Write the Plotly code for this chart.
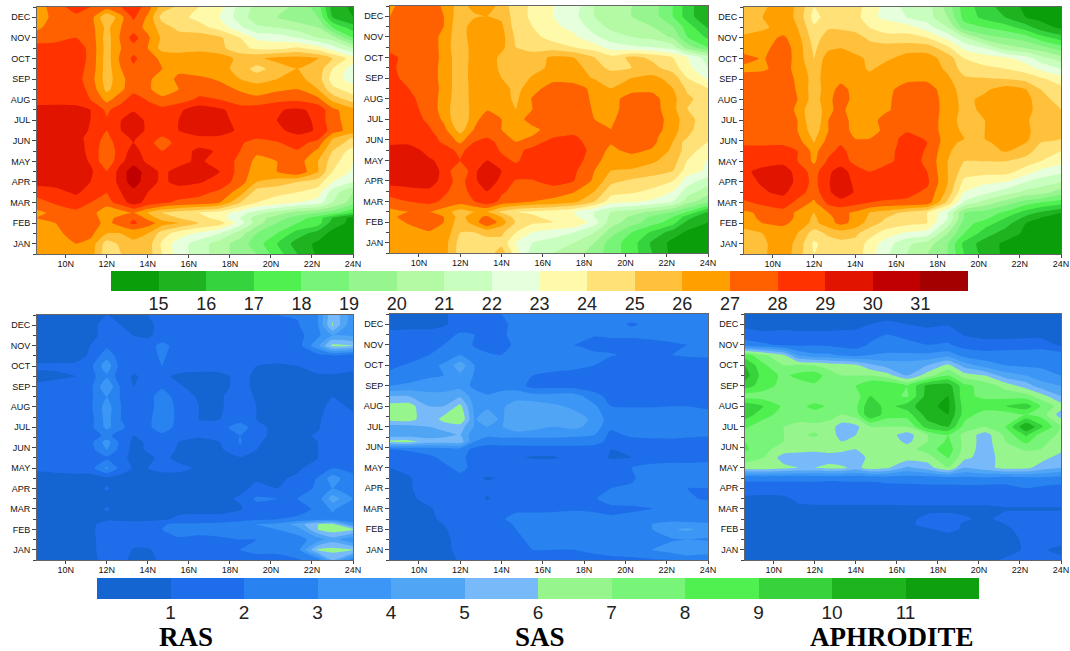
import plotly.graph_objects as go

LON = [8.6, 9.5, 10.5, 11.2, 12, 12.7, 13.3, 14, 14.7, 15.5, 16.5, 17.5, 18.5, 19.3, 20.3, 21.3, 22.3, 23, 24]
TEMP_MONTHS = [0.5, 1, 1.5, 2, 2.25, 2.5, 3, 3.5, 4, 4.5, 5, 5.5, 5.9, 6.1, 6.5, 7, 7.5, 8, 8.5, 9, 9.5, 10, 10.5, 11, 11.5, 12, 12.5]
RAS_RAIN_MONTHS = [0.5, 1, 1.5, 2, 2.25, 2.5, 3, 3.5, 4, 4.5, 5, 5.5, 5.9, 6.28, 6.6, 7, 7.37, 8, 8.5, 9, 9.5, 10, 10.5, 11, 11.5, 12, 12.5]
APHRO_RAIN_MONTHS = [0.5, 1, 1.5, 2, 2.25, 2.5, 3, 3.5, 4, 4.5, 5, 5.5, 5.9, 6.28, 6.6, 7, 7.6, 8, 8.5, 9, 9.5, 10, 10.5, 11, 11.5, 12, 12.5]
MONTH_LABELS = ["JAN", "FEB", "MAR", "APR", "MAY", "JUN", "JUL", "AUG", "SEP", "OCT", "NOV", "DEC"]
LON_TICKS = [10, 12, 14, 16, 18, 20, 22, 24]
TEMP_LEVELS = list(range(15, 32))
RAIN_LEVELS = list(range(1, 12))
TEMP_COLORS = ["#0a9e0a", "#1fb31f", "#35d33d", "#50f050", "#78f578", "#96f58e", "#b4faa4", "#c8ffbe", "#e6ffdc",
               "#fffaaa", "#ffe178", "#ffc03c", "#ffa000", "#ff6000", "#ff3200", "#e11400", "#c00000", "#a50000"]
RAIN_COLORS = ["#1464d2", "#1e6eeb", "#2882f0", "#3c96f5", "#50a5f5", "#78b9fa", "#96f58c", "#78f578", "#50f050",
               "#37d23c", "#1eb41e", "#0fa00f"]
PANEL_TITLES = ["RAS", "SAS", "APHRODITE"]

RAS_TEMP = [
[26.5,26.5,26.7,26.6,24.3,25,25.5,25.5,24,22.5,21.5,20.5,19.5,19,17.5,16,14.8,14.5,14.5],
[26.5,26.5,27,26.7,24.5,25.2,25.8,25.5,23.8,22.5,21.5,20.5,19.5,18.5,17,15.5,14.8,14.5,14.5],
[26.5,26.7,27.5,27.3,26,26,26.3,26,24.5,23.5,22.8,22,20.5,19,18,16.5,15.5,14.7,14.5],
[26.8,27,27.7,27.5,26.7,27.5,28.2,27.5,26.5,26,25,24.5,22.5,20.5,19,18,17.5,15.5,14.7],
[27,27.5,27.8,27.5,26.5,27.5,27.9,26.7,25.5,25,24.5,23.5,22,20.5,19.5,18.5,17.5,16,14.6],
[26.8,27.2,27.8,27.6,26,26.5,27,26,25,24.5,24,23.5,22.5,21.5,20.5,19.5,19,18.5,17],
[27.5,28.2,28.4,28,27.6,28.5,29.5,28.6,28.2,27.8,27.6,27,25,24,23.5,23,22.5,21,19.5],
[28.5,28.6,29.2,28.5,28,29,29.7,29,28.7,28.5,28.3,27.8,26.5,24.5,24.3,24,23.5,21.5,20],
[29.3,29.5,29.8,29,28,29.5,30.5,29.4,28.8,29.3,29.1,28.6,27.5,26,25.5,25,24.5,23,22],
[29.5,29.5,29.6,29.2,28,29.5,30.6,29.5,28.8,29.3,29.4,29,27.6,26.5,27,27.8,26,24,22.8],
[29.4,29.5,29.5,28.9,27.2,28.8,29.6,28.8,28.5,28.7,29.2,28.5,27.8,26.7,27,27.5,26,24.5,23],
[29.4,29.5,29.5,28.7,27.3,28.5,29.4,28.5,28,28.6,29.2,28.9,28,27.2,27.5,27.9,26.8,25,23.5],
[29.3,29.4,29.4,28.7,27.5,28.6,29,28.3,27.6,28.3,28.7,28.6,28.1,27.7,27.9,28.5,27.5,25.7,24.5],
[29.3,29.4,29.4,28.6,27.7,28.7,29.1,28.5,27.8,28.4,28.7,28.6,28.2,28,28.2,28.7,28.2,26,24.8],
[29.5,29.5,29.5,28.9,28,29,29.6,28.8,28.5,29,29.6,29.7,28.7,28.6,28.8,29.3,28.9,27.5,26.5],
[29.5,29.6,29.5,29,28.1,29,29.5,28.8,28.6,29,29.6,29.5,28.5,28.5,29,29.4,28.8,27.2,26.7],
[29.5,29.5,29.4,29,27.8,28.6,28.9,28.5,28.3,28.8,29.6,29.2,28.5,28.6,28.9,29.2,28.7,27.3,26.3],
[28.4,28.5,28.5,28,26.7,27.6,28.6,27.9,27.3,27.5,28.2,28,27.4,27.3,27.7,27.8,27.3,25.7,24.5],
[28.4,28.4,28.4,27.8,25.7,26.8,27.6,27.2,26.4,27,27.6,27.3,26.9,26.5,26.8,27,26,24.3,23.5],
[28.4,28.4,28.4,27.5,25.5,26.7,27.6,27.2,26.5,27.2,27.2,26.9,26,25.6,26,26.3,25.5,23.5,22.5],
[28.5,28.5,28.4,27.7,25.5,27,27.8,27.3,27,26.8,26.5,26.4,25.6,24.6,25.5,26,25.6,24,22.5],
[28.4,28.5,28.5,27.8,25.5,27.3,28.2,27.4,26.8,26.6,27,26.6,25.7,25.8,26.3,26.4,26,25,23.5],
[28.4,28.5,28.4,27.8,25.6,27,27.6,27,25.6,25.5,25.5,25.3,24.3,23.8,23.7,24.2,23.5,22.5,21],
[27.5,27.6,28,27.7,25.5,27.2,28.4,27.2,25.8,25.5,25.6,25.2,24,22.8,22.6,22,21,20.5,18],
[26.8,27.5,27.8,27.5,25.7,27,27.5,26.7,25.5,24.7,24.4,23.6,22.2,21.2,21,20.5,20,18,16.5],
[26.5,27.3,27.7,27.5,25,26.7,28.2,26.8,24.6,24.3,23.7,23,21.5,20.5,20,19.5,19,16,15],
[26.5,27.5,28.5,28,27.5,28,28.6,27.5,25.5,24.8,24,23.4,21.6,20.7,20.3,19.8,18.5,15.5,14.8],
]
SAS_TEMP = [
[26.5,26.5,26.6,26.5,24.5,24.5,24.5,25.5,23.5,21.5,21,20.5,19.5,18.5,17.5,16,14.7,14.4,14.4],
[26.5,26.5,26.5,26.5,24.6,24.5,24.6,24.7,23,22,21.5,21,20,18.5,17.5,15.8,14.7,14.4,14.4],
[26.5,26.6,26.9,26.8,25,25,25.3,25.2,24,23,22.6,22,21,19.5,18,16.8,15.5,14.8,14.4],
[26.6,27.1,27.6,27,25.4,26.5,28,26.5,24.9,24.2,24,24,22.5,20.5,19.5,18.5,17.5,15.7,15],
[26.8,27.3,27.7,27,25.6,26.7,27.2,26,24.6,24.2,23.6,23.3,22,20.8,19.8,18.8,18,16.5,15],
[26.7,27,27,26.5,25.5,26,26,24.8,24,23.8,23.5,23,22,21,20.5,19.8,19,18,16],
[27.6,28,28.3,27.8,27.5,28,28.7,27.7,27.5,27,26.8,26.3,25,23.5,23.2,22.8,22,20.5,19.2],
[28.5,28.6,28.7,28.2,27.5,28.5,29,28.2,27.6,27.7,27.4,27.1,26,24.4,24.2,23.8,23,21.5,20.5],
[29.4,29.6,29.7,28.5,27.6,28.8,29.7,28.7,27.9,27.9,28.5,28,26.8,25.3,24.8,24.5,24,22.5,21.5],
[29.6,29.7,29.7,28.7,27,28.8,29.7,29,28.6,28.6,28.8,28.2,27,26,25.9,25.5,25,23.5,22.8],
[29.6,29.4,29.1,28.8,28,28.7,29,28.4,27.8,28.7,28.9,28.5,27.4,26.4,26.5,26.2,25.5,24,22.9],
[29.5,29.4,28.7,28.5,27.7,28.6,28.9,27.8,27.7,28.3,28.9,28.8,27.5,26.8,27.3,26.9,25.8,24.5,23.5],
[28.7,28.8,28.5,27.8,26.8,28,28.5,27.5,27,27.4,28.5,28.4,27.4,27.1,27.6,27.3,26,24.5,24],
[28.7,28.7,28.4,27.7,26.5,27.7,28,27.3,26.8,27.1,28,28.2,27.4,27,27.6,27.3,26.2,25,24.2],
[28.6,28.6,28.1,27.3,25.5,27.1,28,27,26.6,26.7,27.5,27.6,27.2,27,27.7,27.5,26.5,25.2,24.5],
[28.6,28.5,27.8,26.8,25,26.7,27.5,27,26.5,27.5,27.8,27.6,27,26.8,27.7,27.5,26.6,25.3,24.5],
[28.6,28.3,27.7,26.5,25.2,26.5,26.9,26.5,26,27,27.7,27.6,26.9,26.6,27.6,27.5,26.3,25,24.8],
[28.6,28.2,27.6,26.6,25.3,26.5,26.7,26.4,25.8,27.1,27.7,27.6,26.8,26.6,27.5,27.4,26.3,25.2,24.5],
[28.2,28,27.6,26.7,25.3,26.5,26.8,26.4,25.7,26.5,27.6,27.5,26.7,26,26.6,26.7,26,24.8,24],
[28.2,27.8,27.6,26.6,25.4,26.5,26.8,26,25.5,26.1,26.6,26.5,25.9,25.7,26,26.3,25.6,24,22.8],
[28.2,27.6,27.6,26.6,25.4,26.5,26.8,25.7,25.4,25.7,26.2,26.4,25.5,24.7,25,25.3,24.5,23.3,22],
[28.3,27.6,27.6,26.7,25.3,26.5,26.7,25.7,25.4,25.5,26.2,26,25,24.3,25.3,24.8,24,23,21.5],
[27.6,27.6,27.7,26.6,25.2,26.6,26.8,26.3,25,24.6,24.5,24,23.5,22.5,22.2,22,21.5,19.5,18],
[27.6,27.6,27.7,26.6,25.3,26.8,27,26.4,24.8,24.3,23.6,23.2,22.2,21.5,21,20.7,19.8,18,16.8],
[27.5,27.5,27.7,27,25.1,27,27,26.2,24.5,24,23.2,22.7,21.5,20.7,20.5,20,19,17.5,15.8],
[27,27.5,27.8,27,25.3,25.8,26,25.8,24.5,23.8,23,22.3,21,20.3,20,19.5,18,16.5,15],
[26.8,27.5,27.7,26.8,25.5,26.5,26.7,25.5,24.5,23.8,23,22.5,21,20.5,20,19.5,18,16.5,15],
]
APHRO_TEMP = [
[25.5,25.8,26.7,25.5,24,24.3,24.6,24.6,23.5,22.2,21,20,19,17,15.6,14.8,14.4,14.3,14.3],
[25.5,25.8,26.6,25.7,23.8,24.5,24.7,24.7,23.6,22.5,21.2,20.5,19,16.7,15.5,14.8,14.4,14.3,14.3],
[25.6,26,26.5,26,24.5,25.2,25.5,25.2,24.4,23.5,22.8,22.5,20,18,16.5,15.5,14.8,14.4,14.3],
[26.5,27,27.2,26.7,25.7,26.6,27.3,26.7,25.5,24.7,24.3,24,21.5,18.5,17.5,16.5,15,14.5,14.4],
[26.6,27.2,27.5,26.8,25.8,26.8,27.3,26.8,25.8,25,24.5,24,22,19,18.3,17,15.7,15,14.6],
[26.8,27.2,27.6,26.8,26,27,27.3,26.8,26,25.5,24.7,24,22,19,18.5,17.8,16.5,15.8,15],
[27.8,28.3,28.6,27.7,26.8,28.3,28.6,28.4,28,27.8,27.8,27.6,24.7,21.8,20.6,19.5,18.5,18,17.5],
[28.6,28.9,29.2,28.5,27.5,28.8,29.7,28.9,28.5,28.6,28.3,27.8,25.7,23,22.3,21.5,20.7,20.5,19.5],
[28.7,29.1,29.7,28.7,27.7,28.9,29.8,28.7,28.3,29,28.7,28.2,26,23.7,23.2,23,22,21.5,21],
[28.8,29.3,29.6,28.6,27.6,28.8,29.5,28.5,28,28.5,28.7,28,26,24.5,24.4,24.4,23.5,22.7,22.3],
[28.5,28.6,28.7,28,26.8,28.2,28.5,27.7,27,27.7,28.5,27.8,26,25,25,25,24.5,24,23.3],
[28.5,28.6,28.7,28,26.7,27.7,28.3,27.5,27.3,27.6,28.5,27.9,26.2,25.3,25.6,26.1,25.5,24.5,24],
[27.8,27.7,27.7,27.5,26,27.5,27.9,27.2,27.5,27.6,28.3,28,26.4,25.7,25.8,26.4,26,25,24.3],
[27.6,27.6,27.6,27.3,25.8,27.3,27.7,27,27,27.4,28.4,27.9,26.5,26,26,26.5,26.2,25.3,25],
[27.5,27.5,27.5,27,25.4,27,27.6,26.6,26.5,27.3,27.9,27.6,26.5,25.8,26,26.6,26.3,25.4,25],
[27.5,27.6,27.6,27,25,27,27.6,26.5,26.5,27.5,28,27.6,26.5,25.6,26,26.6,26.2,25.3,25],
[27.4,27.5,27.6,26.8,25,26.8,27.3,26.4,26.3,26.8,27.7,27.6,26.6,25.7,26.2,26.7,26.6,25.3,25],
[27.5,27.6,27.6,27,25.5,26.7,27.6,26.6,26.3,26.7,27.8,27.7,26.5,25.7,26.3,26.8,26.5,25.2,24.8],
[27.5,27.6,27.6,26.9,25.5,26.5,27.4,26.6,26.4,26.6,27.6,27.5,26.4,25.6,25.8,26.5,26,25,24.3],
[27.6,27.6,27.6,26.8,25.6,26.5,26.7,26.6,26.5,26.5,26.7,26.8,26.2,25.2,25.1,25,24.7,24.2,23.5],
[26.7,26.8,27.5,26.6,25.5,26.5,26.7,26.6,25.8,26.5,26.6,26.6,25.8,24.5,24.2,24,23.5,22.8,22],
[27.4,26.9,27.6,26.6,25,26.6,26.7,26.3,25.8,25.8,26.4,26.4,25.6,24,23.6,23.3,22.5,21.5,20.5],
[26.5,26.7,27.5,26.6,24.8,25.8,26,25.6,25.4,25.5,25.6,25.6,24.3,22.8,22,20.5,20,19.5,18.5],
[26.2,26.5,27.2,26.4,24.5,25.5,25.8,25.5,24.8,24.4,24.4,24,22.7,21.2,19.5,19,18.5,17.5,16.5],
[25.6,25.8,26.4,26,24.2,24.9,24.8,24.6,24,23.5,23.5,22.5,21,18.5,18,17.5,16.5,15.5,14.8],
[25.5,26,26.5,25.8,23.6,24.5,24.7,24.5,23.2,22.8,22,21.5,20,17.6,16.7,16,15,14.7,14.5],
[25.6,25.8,26.6,25.8,24,24.7,25,24.5,23.5,22.7,21.7,21.5,19.5,17.5,16.5,15.5,14.8,14.5,14.3],
]
RAS_RAIN = [
[.5,.5,.5,.6,1.5,1.3,.7,.7,1.2,1.4,1.4,1.4,1.6,1.7,1.7,1.9,2.5,5,2.5],
[.5,.5,.5,.6,1.7,1.6,.9,.9,1.3,1.6,1.5,1.6,2,2.2,2.2,2.6,6.2,6.4,6.1],
[.5,.5,.5,.6,1.8,1.6,1.4,1.5,1.4,1.8,1.7,1.8,2,2,2.2,2.6,3.5,4.5,3],
[.5,.5,.5,.6,2,1.6,1.5,1.5,2,2.6,2.4,2.5,2.8,3,3,3.5,6,6.6,6.2],
[.5,.5,.5,.6,1.7,1.5,1.4,1.5,1.9,2.2,2.2,2.3,2.6,3,3.2,4.5,6,6.3,3.5],
[.5,.5,.5,.5,.7,.7,.7,.7,.8,1.2,1.3,1.3,1.6,1.8,2,2.2,2.5,2.6,2.2],
[.5,.5,.5,.5,1.1,.6,.5,.6,.6,.7,.7,.7,.9,1.5,1.5,1.6,2.2,3.2,2],
[.5,.5,.5,.5,.7,.6,.5,.5,.6,.8,.7,.8,1.1,2.2,2,2,2.5,4.5,3],
[.5,.5,.5,.5,1.1,.6,.5,.5,.6,.6,.6,.7,.8,1.2,1,1.2,2.3,3,2.5],
[.5,.5,.5,.5,.7,.6,.5,.6,.7,.7,.7,.7,.8,.9,.9,1.1,2.1,3.5,2.2],
[1.2,1.4,1.6,1.6,3.2,1.6,.9,1,1.2,1.2,.9,.8,.9,.9,.9,.9,1.3,2,1.8],
[1,1.1,1.1,1.4,1.8,1.3,.7,.8,1.2,.8,.8,.8,.9,.8,.7,.7,1,1.3,1.4],
[1.2,1.2,1.3,1.6,3,1.6,.7,1.1,1.4,.9,.8,.8,1.8,1,.7,.7,1,1.4,1.2],
[1.2,1.2,1.3,1.7,3.5,1.6,.8,1.1,1.5,1,.8,1,2.1,1.1,.7,.7,1,1.5,1.3],
[1.1,1.3,1.4,1.6,2.2,1.6,1,1.6,1.7,1.2,1.1,1.2,2,1.2,.8,.8,1.1,1.6,1.2],
[1.3,1.3,1.4,1.7,3.3,2.2,1.6,1.7,2.8,1.5,1.1,1.4,2.8,1.2,.8,.8,.9,1.6,1.2],
[1.1,1.1,1.2,1.6,3.4,2,1.5,1.7,2.8,1.7,1,1,1.5,1,.9,.9,.9,1.4,1.2],
[1.2,1.3,1.4,1.8,3.5,2,1.5,1.6,2.5,1.8,1,.9,1.4,1,.8,.8,.8,1.2,.9],
[1.1,1.2,1.3,1.8,3,1.9,1.4,1.5,2.7,1.4,.9,.9,1.4,.9,.8,.8,.8,1,.8],
[1.2,1.4,1.4,1.7,3.9,1.8,1,1.3,1.8,1.1,.7,.7,1.3,.8,.7,.7,.8,.9,.8],
[.7,.8,1,1.6,2.8,1.4,.9,1.2,1.2,.8,.7,.7,1.3,.8,.7,.7,.9,.9,.9],
[1.2,1.2,1.3,1.7,3.7,1.5,1.3,1.5,2,1.5,1.4,1.5,1.6,1,.9,1,1.3,1.4,1.1],
[.5,.5,.5,1.2,2.6,1.5,1.2,1.5,2.2,1.3,1.3,1.3,1.4,1.4,1.3,1.3,1.6,1.8,1.2],
[.5,.5,.5,1,1.8,1.4,1.2,1.6,2.3,1.6,1.5,1.5,1.6,1.5,1.4,1.5,3.8,6.3,6],
[.5,.5,.5,.6,1.5,1.3,1,.8,1.4,1.7,1.4,1.3,1.3,1.6,1.6,1.6,2.8,4,3.8],
[.5,.5,.5,.6,1.5,1,.7,.7,1.4,2,1.7,1.4,1.3,1.7,1.8,1.9,3,6.1,3],
[.5,.5,.5,.6,1,1,1,1,1.5,1.5,1.3,1.3,1.4,1.9,2,2.1,3,5.8,3.5],
]
SAS_RAIN = [
[.5,.5,.5,.6,1.1,1.2,1.3,1.3,1.3,1.7,1.6,1.7,1.7,1.8,1.8,1.9,2,2.2,2],
[.5,.5,.5,.7,1.3,1.4,1.4,1.4,1.6,2,2,2,2.2,2.3,2.5,3,3.5,4,3.8],
[.5,.5,.5,.7,1.4,1.4,1.5,1.6,1.8,2.2,2.2,2.2,2.4,2.5,2.6,2.7,2.9,3,2.9],
[.5,.5,.6,.9,1.4,1.5,1.5,1.6,2,2.6,2.6,2.6,2.7,2.8,2.9,3,3.9,4.2,3.5],
[.5,.5,.7,1,1.5,1.5,1.6,1.7,2.1,2.7,2.6,2.6,2.6,2.7,2.8,3,3.3,3.2,3.1],
[.5,.5,.8,1.2,1.4,1.5,1.6,1.9,2.3,2.5,2.6,2.4,2.2,2.2,2.4,2.6,2.7,2.7,2.6],
[.5,.6,.9,1.3,1.5,1.5,1.6,1.6,1.8,1.7,1.7,1.9,1.9,1.7,1.8,2,2.2,2.4,2.4],
[.5,.8,1.3,1.4,1.8,1.4,.9,1.3,1.5,1.5,1.7,1.7,1.9,2.5,2.5,2.6,2.4,2.1,1.9],
[.5,.9,1.4,1.5,2,1.5,1.3,1.5,1.7,1.6,1.6,1.6,1.7,2,2.1,2.2,2.1,2,2],
[.6,.9,1.5,1.6,1.8,1.2,.9,1.1,1,1.3,1.5,1.5,1.7,1.8,1.9,2.4,2.4,2.5,2.5],
[1,1.3,1.6,1.8,2.2,1.8,1.6,1.6,1.7,1.8,1.6,1.7,1.6,1.8,2,2.5,2.9,2.7,2.6],
[1.4,1.6,1.8,2.2,2.3,1.5,1.3,1.5,1.1,.9,.9,1.2,1.5,.9,1,1.2,1.1,1.2,1.5],
[2,2.1,2.4,2.5,2.6,1.7,1.4,1.4,1.5,1.5,1.5,1.6,1.4,1,1.1,1.5,1.4,1.6,2],
[6.3,6.4,5.5,5.5,5.6,3,2.5,2.6,2.5,2.6,2.6,2.5,2.5,1.6,1.6,1.6,1.7,1.7,1.7],
[4.5,4.5,4.5,4.7,5,3.3,3.2,3.3,3.3,3.3,3.3,3.2,3,1.7,2.2,2.4,2.4,2.2,2.1],
[4.6,4.6,5,5.3,5.5,3.9,4,3.9,5,4.5,4,4.3,3.6,2.2,2.9,2.5,2.4,2.2,2.1],
[6.4,6.5,5.2,6.4,7,3.9,4.6,3.8,5,4.5,4.4,4.5,3.8,2.4,2.9,3,2.8,2.5,2.3],
[6.4,6.5,5,5,6.3,3.7,3.8,3.8,4.6,4.6,4.2,3.8,3.2,2,1.9,1.9,2,2,1.9],
[5,5,4.4,4.5,4.8,3.5,3.1,3.3,3.5,3.4,3.4,3.5,2.3,1.7,1.6,1.7,1.5,1.5,1.3],
[3,3.2,3.3,3.2,3.6,2.7,2.4,2.7,2.6,1.6,1.6,1.5,1.5,1.5,1.4,1.2,1.2,1.1,1],
[2.2,2.5,2.9,3,3.8,2.9,2.7,2.7,2.6,2,1.7,1.6,1.6,1.5,1.3,1.3,1.3,1.3,1.3],
[1.8,2.1,2.8,3.1,4.6,3,2.7,2.5,2.5,2.6,2.5,2.3,2,1.2,1,1,1,1,1.1],
[1.4,1.6,2,2.6,3,2.3,2.1,2,3,3,2.3,2.2,2.2,2.1,1.8,1.9,2,2.2,2.3],
[1.5,1.6,1.8,2,2.5,1.9,1.7,1.6,2.2,2.1,2,2,1.6,1.6,1.4,1.5,1.8,2,2],
[1.3,1.4,1.4,1.7,2.1,2,1.8,1.5,2.9,2.3,2.2,2.1,2.1,2.2,2.3,2.5,2.6,2.9,2.8],
[.6,.6,.6,.8,1.6,1.6,1.3,1.5,2.6,2.6,2.5,2.5,2.3,2.3,1.9,2.2,2.5,2.8,2.9],
[.5,.5,.5,.8,1.6,1.8,1.6,2,2.6,2.7,2.8,2.5,2.4,2.4,2.4,2.6,3,3,3],
]
APHRO_RAIN = [
[.6,.6,.6,.6,.6,.6,.6,.6,.6,.6,.6,.6,.6,.6,.8,1.1,1.2,1.2,1.2],
[.6,.6,.6,.6,.6,.6,.6,.6,.6,.6,.6,.6,.6,.6,.6,.7,1.1,1.1,.8],
[.6,.6,.6,.6,.6,.6,.6,.6,.6,.6,.6,.6,.6,.6,.6,.6,1.2,1.2,1.3],
[.7,.7,.7,.7,.7,.7,.7,.7,.7,.7,.7,.9,1.2,.9,.8,.9,1.2,1.2,1.3],
[.7,.7,.7,.7,.7,.7,.7,.7,.7,.7,.8,1.3,1.3,.9,.8,1,1.2,1.3,1.3],
[.7,.7,.7,.7,.7,.7,.7,.7,.7,.7,.8,1.2,1.3,1.1,.8,1.3,1.4,1.4,1.4],
[.8,.8,.8,.8,.8,.8,.8,.8,.8,.8,.8,.8,.8,.8,.8,.9,.9,.9,.9],
[.8,.7,.8,1.2,1.3,1.3,1.3,1.3,1.3,1.3,1.4,1.4,1.4,1.4,1.4,1.6,1.6,1.6,1.6],
[1.6,1.6,1.6,1.6,1.5,1.5,1.6,1.5,1.5,1.6,1.6,1.7,1.7,1.7,1.6,1.7,2,1.8,1.6],
[2.2,2.2,2.2,2.2,2.3,2.2,2.2,2.3,2.3,2.4,2.5,2.5,2.6,2.7,2.8,2.5,2.7,2.8,2.6],
[6.5,6.7,6.3,6,6,6.3,6.3,5.6,6.6,6.2,4.8,5.5,7,5,5.6,6.4,6.3,5.5,5],
[7.5,7,5.5,5.5,5.5,5.5,5,5,6.5,6.5,6.5,6.5,8.1,6.3,5.5,6.5,6.6,6.5,5.5],
[8.2,7.3,6.5,6.3,6.2,6.4,6.5,6,6.7,6.5,6.6,7.5,8.6,6.6,5.5,6.7,7.1,7,6.3],
[8,7.5,7,6.8,6.7,6.7,6,6.5,7,6.8,5.7,7,8.2,6.7,5.5,7,8.3,7.2,6.7],
[7.5,7.2,7,6.9,7.1,6.7,5.5,6,7,6.5,5.5,7,8,6.7,5.5,7.2,9.2,7.6,6.8],
[8.2,7.3,7,6.7,6.8,6.5,5.5,5.7,7,7,7,9.5,10,7.6,7,8,11,9.3,7],
[9.5,8.5,7.5,7.5,7.5,7.5,7,7.5,10,8.5,8.5,10.5,11,8.5,7.5,7.5,8,7.6,5.5],
[9.8,9,7.8,7.6,8.4,7.8,7.2,7.8,9.8,8.6,9.5,10.8,11.2,8.5,8.5,9,9.6,8,6.5],
[7.5,7.5,7.3,7,7,7.2,7.2,7.5,9,8.5,7.8,10.5,11,8.2,7.8,7.6,7.4,6.5,5],
[9.5,8.5,7.6,7.5,7.8,8,7.6,8,9,9,8,10.3,10.5,8.3,7.6,6.6,5.5,4.5,4],
[10.5,8.5,7.8,8.3,8.6,7.5,7,7,7,6.5,5,6.5,8,6.5,6,4.5,4,3.5,3],
[10,8.2,7,7.2,7,6.6,6.5,6.2,5.3,4.6,4.5,5,6.3,4.5,3.5,3,2.8,2.8,2.8],
[8.5,7.2,6,3.8,3.2,3.2,2.8,2.6,3,3.2,3.2,3.2,3.5,2.6,2.4,2.5,2.5,2.5,2.5],
[2.4,2.2,1.8,1.8,1.9,1.8,1.7,1.6,2.1,2.3,2.2,2,2.1,1.6,1.4,1.4,1.5,1.6,.8],
[1.6,1.2,1.3,1.2,1.2,1.2,1.3,1.3,1.7,2,1.8,1.4,1.6,.9,.7,.7,.7,.7,.7],
[.6,.6,.6,.6,.6,.6,.6,.7,1,1.2,1,.8,.9,.6,.6,.6,.6,.6,.6],
[.6,.6,.6,.6,.6,.6,.6,.6,.6,.6,.6,.6,.6,.6,.6,.6,.6,.6,.6],
]


def discrete_scale(colors):
    n = len(colors)
    out = []
    for i, c in enumerate(colors):
        out += [[i / n, c], [(i + 1) / n, c]]
    return out


W, H = 1070, 651
TEMP_SCALE = discrete_scale(TEMP_COLORS)
RAIN_SCALE = discrete_scale(RAIN_COLORS)
FONT = "Liberation Sans"
PANELS = [
    (RAS_TEMP, TEMP_MONTHS, "temp", (37, 353, 7, 254)),
    (SAS_TEMP, TEMP_MONTHS, "temp", (390, 708, 6, 253)),
    (APHRO_TEMP, TEMP_MONTHS, "temp", (744, 1061, 7, 254)),
    (RAS_RAIN, RAS_RAIN_MONTHS, "rain", (37, 353, 315, 560)),
    (SAS_RAIN, RAS_RAIN_MONTHS, "rain", (390, 708, 314, 560)),
    (APHRO_RAIN, APHRO_RAIN_MONTHS, "rain", (745, 1061, 314, 560)),
]

fig = go.Figure()
layout = dict(width=W, height=H, margin=dict(l=0, r=0, t=0, b=0, autoexpand=False), paper_bgcolor="white",
              plot_bgcolor="white", showlegend=False, autosize=False)

for i, (z, months, kind, (x0, x1, y0, y1)) in enumerate(PANELS, start=1):
    temp = kind == "temp"
    fig.add_trace(go.Contour(
        x=LON, y=months, z=z, xaxis=f"x{i}", yaxis=f"y{i}", showscale=False, hoverinfo="skip",
        colorscale=TEMP_SCALE if temp else RAIN_SCALE,
        zmin=14 if temp else 0, zmax=32 if temp else 12,
        contours=dict(coloring="fill", showlines=False,
                      start=TEMP_LEVELS[0] if temp else RAIN_LEVELS[0],
                      end=TEMP_LEVELS[-1] if temp else RAIN_LEVELS[-1], size=1),
        line=dict(width=0, smoothing=0.5),
    ))
    layout[f"xaxis{i}"] = dict(
        domain=[x0 / W, x1 / W], anchor=f"y{i}", range=[8.6, 24], tickmode="array", tickvals=LON_TICKS,
        ticktext=[f"{v}N" for v in LON_TICKS], ticks="outside", ticklen=3, tickcolor="#444", ticklabelstandoff=-2,
        tickfont=dict(family=FONT, size=9, color="#111"), showgrid=False, zeroline=False, automargin=False,
        showline=True, linecolor="#666", linewidth=1, mirror=True)
    layout[f"yaxis{i}"] = dict(
        domain=[1 - y1 / H, 1 - y0 / H], anchor=f"x{i}", range=[0.5, 12.5], tickmode="array",
        tickvals=list(range(1, 13)), ticktext=MONTH_LABELS, ticks="outside", ticklen=4, tickcolor="#444",
        tickfont=dict(family=FONT, size=9, color="#111"), showgrid=False, zeroline=False, automargin=False,
        showline=True, linecolor="#666", linewidth=1, mirror=True,
        minor=dict(tickmode="array", tickvals=[m + 0.5 for m in range(0, 13)], ticks="outside", ticklen=3,
                   tickcolor="#444", showgrid=False))

# colour bars
BARS = [
    (TEMP_COLORS, TEMP_LEVELS, TEMP_SCALE, 14, 32, (111, 968, 271, 291), 7, 18),
    (RAIN_COLORS, RAIN_LEVELS, RAIN_SCALE, 0, 12, (97, 979, 578, 599), 8, 19),
]
for j, (colors, levels, scale, lo, hi, (x0, x1, y0, y1), axis_id, fsize) in enumerate(BARS):
    fig.add_trace(go.Heatmap(
        x=[lo + k + 0.5 for k in range(len(colors))], y=[0], z=[[lo + k + 0.5 for k in range(len(colors))]],
        xaxis=f"x{axis_id}", yaxis=f"y{axis_id}", colorscale=scale, zmin=lo, zmax=hi, showscale=False,
        hoverinfo="skip"))
    layout[f"xaxis{axis_id}"] = dict(
        domain=[x0 / W, x1 / W], anchor=f"y{axis_id}", range=[lo, hi], tickmode="array", tickvals=levels,
        ticks="", showgrid=False, zeroline=False, showline=False, ticklabelstandoff=0, automargin=False,
        tickfont=dict(family=FONT, size=fsize, color="#222"))
    layout[f"yaxis{axis_id}"] = dict(
        domain=[1 - y1 / H, 1 - y0 / H], anchor=f"x{axis_id}", range=[-0.5, 0.5], showticklabels=False,
        ticks="", showgrid=False, zeroline=False, showline=False, automargin=False)

annotations = []
for title, cx in zip(PANEL_TITLES, [186, 540, 892]):
    annotations.append(dict(text=f"<b>{title}</b>", x=cx / W, y=1 - 637 / H, xref="paper", yref="paper",
                            xanchor="center", yanchor="middle", showarrow=False,
                            font=dict(family="Liberation Serif", size=27, color="black")))
layout["annotations"] = annotations
fig.update_layout(**layout)
fig.write_html("out.html", config={"displayModeBar": False, "responsive": False},
               default_width=f"{W}px", default_height=f"{H}px")
with open("out.html", encoding="utf-8") as fh:
    page = fh.read()
page = page.replace("<head>", "<head><style>html,body{margin:0;padding:0;overflow:hidden}</style>", 1)
with open("out.html", "w", encoding="utf-8") as fh:
    fh.write(page)
